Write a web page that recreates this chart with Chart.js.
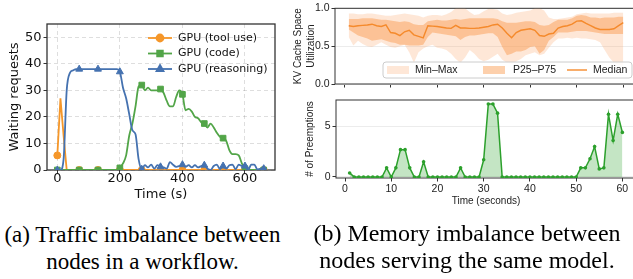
<!DOCTYPE html>
<html>
<head>
<meta charset="utf-8">
<script src="https://cdn.jsdelivr.net/npm/chart.js@4.4.1/dist/chart.umd.min.js"></script>
<style>
body { margin: 0; width: 633px; height: 279px; overflow: hidden; background: #fff; position: relative; }
.box { position: absolute; }
.cap { position: absolute; font: 23px/27px "Liberation Serif", serif; text-align: center; color: #000; white-space: nowrap; }
</style>
</head>
<body>
<div class="box" style="left:0;top:0;width:295px;height:205px"><canvas id="trafficChart"></canvas></div>
<div class="box" style="left:290px;top:0;width:350px;height:95px"><canvas id="kvChart"></canvas></div>
<div class="box" style="left:290px;top:90px;width:350px;height:120px"><canvas id="preemptChart"></canvas></div>
<div class="cap" style="left:0;top:221px;width:285px">(a) Traffic imbalance between<br>nodes in a workflow.</div>
<div class="cap" style="left:306px;top:220px;width:322px;font-size:24px">(b) Memory imbalance between<br>nodes serving the same model.</div>

<script>
// (a) waiting requests per GPU, sampled every 10 s
const timeS = [0, 10, 20, 30, 40, 50, 60, 70, 80, 90, 100, 110, 120, 130, 140, 150, 160, 170, 180, 190,
  200, 210, 220, 230, 240, 250, 260, 270, 280, 290, 300, 310, 320, 330, 340, 350, 360, 370, 380, 390,
  400, 410, 420, 430, 440, 450, 460, 470, 480, 490, 500, 510, 520, 530, 540, 550, 560, 570, 580, 590,
  600, 610, 620, 630, 640, 650, 660];
const toolUse = [5.5, 27, 13, 0, 0, 0, 0, 0, 0, 0, 0, 0, 0, 0, 0, 0, 0, 0, 0, 0,
  0, 0, 0, 0, 0, 0, 0, 0, 0, 0, 0, 0, 0, 0, 0, 0, 0, 0, 0, 0,
  0, 0, 0, 0, 0, 0, 0, 0, 0, 0, 0, 0, 0, 0, 0, 0, 0, 0, 0, 0,
  0, 0, 0, 0, 0, 0, 0];
const code = [0, 0, 0, 0, 0, 0, 0, 0, 0, 0, 0, 0, 0, 0, 0, 0, 0, 0, 0, 0,
  0.8, 2.5, 5.5, 13, 17.5, 24, 31.5, 32, 30, 31, 30, 30, 30, 30.5, 29, 26, 24, 24, 27.5, 30,
  28.5, 22.5, 23, 22, 20, 19.5, 18, 17.5, 16, 17.5, 16, 14, 12.5, 12, 11, 7.5, 6, 6, 5.5, 2.5,
  0.5, 0, 0, 0, 0, 0, 0];
const reasoning = [0, 0, 4, 30, 36.5, 37.5, 38, 38, 38, 38, 38, 38, 38, 38, 38, 38, 38, 38, 38, 38,
  37, 31, 27, 21, 15, 13.5, 4, 0.3, 1.8, 1, 2, 0.5, 1.8, 1.2, 1, 0.5, 3, 2, 1.2, 1.5,
  2, 1.2, 1.8, 1, 1.8, 1, 1.5, 1.8, 0.5, 0, 1.5, 2, 0.3, 1.5, 0.5, 1.8, 2, 0.3, 2, 1.5,
  1.5, 0, 2, 2, 0.2, 0.5, 0.5];
const markerIdx = [0, 7, 13, 20, 27, 33, 40, 47, 53, 60, 66];
const timeTicks = [0, 200, 400, 600];
const waitTicks = [0, 10, 20, 30, 40, 50];

// (b) per-second KV cache utilization across nodes and preemption counts
const seconds = [1, 2, 3, 4, 5, 6, 7, 8, 9, 10, 11, 12, 13, 14, 15, 16, 17, 18, 19, 20,
  21, 22, 23, 24, 25, 26, 27, 28, 29, 30, 31, 32, 33, 34, 35, 36, 37, 38, 39, 40,
  41, 42, 43, 44, 45, 46, 47, 48, 49, 50, 51, 52, 53, 54, 55, 56, 57, 58, 59, 60];
const kvMax = [0.93, 0.93, 0.92, 0.92, 0.93, 0.93, 0.92, 0.91, 0.90, 0.90, 0.91, 0.92, 0.93, 0.92, 0.91, 0.90, 0.88, 0.90, 0.91, 0.91,
  0.90, 0.92, 0.95, 1.0, 1.0, 1.0, 0.95, 0.91, 0.92, 0.96, 0.99, 0.99, 0.98, 0.93, 0.91, 0.92, 0.94, 0.95, 0.96, 0.97,
  1.0, 1.0, 0.97, 0.88, 0.86, 0.86, 0.87, 0.88, 0.89, 0.92, 0.93, 0.94, 0.93, 0.93, 0.93, 0.93, 0.93, 0.94, 0.94, 0.94];
const kvP75 = [0.86, 0.86, 0.86, 0.87, 0.87, 0.87, 0.86, 0.85, 0.85, 0.84, 0.83, 0.82, 0.83, 0.82, 0.79, 0.78, 0.78, 0.83, 0.84, 0.85,
  0.84, 0.84, 0.85, 0.86, 0.85, 0.86, 0.87, 0.87, 0.87, 0.87, 0.87, 0.87, 0.86, 0.83, 0.81, 0.81, 0.81, 0.82, 0.83, 0.83,
  0.82, 0.78, 0.77, 0.78, 0.82, 0.85, 0.85, 0.85, 0.87, 0.90, 0.91, 0.90, 0.88, 0.88, 0.87, 0.88, 0.88, 0.88, 0.89, 0.89];
const kvMedian = [0.77, 0.76, 0.77, 0.775, 0.78, 0.79, 0.77, 0.76, 0.78, 0.68, 0.67, 0.64, 0.69, 0.71, 0.65, 0.63, 0.61, 0.77, 0.765, 0.76,
  0.75, 0.74, 0.735, 0.775, 0.74, 0.74, 0.735, 0.735, 0.74, 0.75, 0.76, 0.78, 0.79, 0.74, 0.67, 0.61, 0.68, 0.71, 0.72, 0.73,
  0.71, 0.64, 0.63, 0.66, 0.67, 0.74, 0.76, 0.77, 0.79, 0.83, 0.835, 0.80, 0.77, 0.74, 0.72, 0.72, 0.72, 0.73, 0.77, 0.81];
const kvP25 = [0.72, 0.68, 0.64, 0.62, 0.60, 0.57, 0.58, 0.59, 0.57, 0.55, 0.54, 0.52, 0.52, 0.51, 0.51, 0.51, 0.52, 0.62, 0.68, 0.67,
  0.66, 0.65, 0.64, 0.63, 0.58, 0.62, 0.64, 0.64, 0.65, 0.66, 0.67, 0.67, 0.62, 0.49, 0.38, 0.40, 0.43, 0.43, 0.45, 0.49,
  0.50, 0.40, 0.45, 0.57, 0.62, 0.68, 0.68, 0.68, 0.69, 0.70, 0.70, 0.70, 0.69, 0.68, 0.67, 0.66, 0.66, 0.66, 0.66, 0.66];
const kvMin = [0.62, 0.51, 0.57, 0.53, 0.50, 0.49, 0.52, 0.55, 0.52, 0.49, 0.48, 0.50, 0.52, 0.42, 0.28, 0.42, 0.47, 0.50, 0.52, 0.48,
  0.47, 0.45, 0.40, 0.33, 0.28, 0.35, 0.45, 0.40, 0.33, 0.30, 0.32, 0.36, 0.40, 0.32, 0.28, 0.26, 0.30, 0.33, 0.38, 0.40,
  0.42, 0.38, 0.40, 0.48, 0.55, 0.60, 0.60, 0.61, 0.60, 0.61, 0.60, 0.60, 0.59, 0.58, 0.55, 0.45, 0.35, 0.28, 0.25, 0.24];
const preemptions = [0.4, 0, 0, 0, 0, 0, 0, 0, 0.9, 0, 0.9, 2.7, 2.7, 0.9, 0, 0, 1.5, 0, 0, 0,
  0, 0, 0, 0, 0.9, 0, 0, 0, 0, 1.7, 7.2, 7.2, 6.3, 0, 0, 0, 0, 0, 0, 0,
  0, 0, 0, 0, 0, 0, 0, 0, 0, 0, 0.9, 0.9, 1.8, 3.0, 0.8, 0.9, 6.2, 3.6, 6.2, 4.4];
const secondTicks = [0, 10, 20, 30, 40, 50, 60];
const kvTicks = [0, 0.5, 1.0];
const preemptTicks = [0, 5];

const pts = (xs, ys) => xs.map((x, i) => ({x: x, y: ys[i]}));
const fixTicks = vals => s => { s.ticks = vals.map(v => ({value: v})); };

const frame = {
  id: 'frame',
  beforeDatasetsDraw(chart, args, opts) {
    const {ctx, chartArea: a} = chart;
    ctx.save();
    ctx.strokeStyle = opts.color;
    ctx.lineWidth = opts.width;
    ctx.strokeRect(a.left, a.top, a.right - a.left, a.bottom - a.top);
    ctx.restore();
  }
};

// matplotlib style legend: short line with marker, then label
const lineLegend = {
  id: 'lineLegend',
  afterDraw(chart, args, o) {
    const ctx = chart.ctx;
    ctx.save();
    ctx.font = o.font;
    ctx.textBaseline = 'middle';
    chart.data.datasets.forEach((ds, i) => {
      const y = o.y + i * o.rowGap;
      ctx.strokeStyle = ds.borderColor;
      ctx.fillStyle = ds.borderColor;
      ctx.lineWidth = ds.borderWidth;
      ctx.beginPath();
      ctx.moveTo(o.x, y);
      ctx.lineTo(o.x + o.lineLen, y);
      ctx.stroke();
      Chart.helpers.drawPoint(ctx, {pointStyle: ds.pointStyle, radius: ds.markerSize, rotation: 0, borderWidth: 1}, o.x + o.lineLen / 2, y);
      ctx.fillStyle = '#111';
      ctx.fillText(ds.label, o.x + o.lineLen + 6, y);
    });
    ctx.restore();
  }
};

const bandLegend = {
  id: 'bandLegend',
  afterDraw(chart, args, o) {
    const ctx = chart.ctx;
    ctx.save();
    ctx.fillStyle = 'rgba(255,255,255,0.85)';
    ctx.strokeStyle = '#cccccc';
    ctx.lineWidth = 1;
    ctx.beginPath();
    ctx.roundRect(o.x, o.y, o.w, o.h, 3);
    ctx.fill();
    ctx.stroke();
    ctx.font = o.font;
    ctx.textBaseline = 'middle';
    const cy = o.y + o.h / 2;
    o.items.forEach(it => {
      const ds = chart.data.datasets[it.ds];
      if (it.kind === 'box') {
        ctx.fillStyle = ds.backgroundColor;
        ctx.fillRect(it.x, cy - 4, 22, 8);
      } else {
        ctx.strokeStyle = ds.borderColor;
        ctx.lineWidth = ds.borderWidth;
        ctx.beginPath();
        ctx.moveTo(it.x, cy);
        ctx.lineTo(it.x + 20, cy);
        ctx.stroke();
      }
      ctx.fillStyle = '#222';
      ctx.fillText(ds.label, it.tx, cy);
    });
    ctx.restore();
  }
};

const markerRadius = r => c => markerIdx.includes(c.dataIndex) ? r : 0;

new Chart(document.getElementById('trafficChart'), {
  type: 'line',
  data: {
    datasets: [{
      label: 'GPU (tool use)',
      data: pts(timeS, toolUse),
      borderColor: '#f5972a', backgroundColor: '#f5972a', borderWidth: 1.8,
      pointStyle: 'circle', markerSize: 3.5, pointRadius: markerRadius(3.5), pointBorderWidth: 1,
      tension: 0, order: 3
    }, {
      label: 'GPU (code)',
      data: pts(timeS, code),
      borderColor: '#52a548', backgroundColor: '#52a548', borderWidth: 1.8,
      pointStyle: 'rect', markerSize: 4, pointRadius: markerRadius(4), pointBorderWidth: 1,
      cubicInterpolationMode: 'monotone', order: 2
    }, {
      label: 'GPU (reasoning)',
      data: pts(timeS, reasoning),
      borderColor: '#4572b0', backgroundColor: '#4572b0', borderWidth: 1.8,
      pointStyle: 'triangle', markerSize: 4, pointRadius: markerRadius(4), pointBorderWidth: 1,
      cubicInterpolationMode: 'monotone', order: 1
    }]
  },
  options: {
    responsive: true,
    maintainAspectRatio: false,
    animation: false,
    layout: {padding: {top: 24, right: 20, left: 0, bottom: 0}},
    font: {family: 'DejaVu Sans'},
    scales: {
      x: {
        type: 'linear', min: -33, max: 696,
        afterBuildTicks: fixTicks(timeTicks),
        afterFit: s => { s.height = 35; },
        grid: {color: 'rgba(0,0,0,0.13)', tickColor: '#333', tickLength: 3.5, tickBorderDash: []},
        border: {display: false, dash: [4, 3]},
        ticks: {color: '#111', padding: -3, font: {family: 'DejaVu Sans', size: 13}, maxRotation: 0},
        title: {display: true, text: 'Time (s)', color: '#111', font: {family: 'DejaVu Sans', size: 13}, padding: {top: 0, bottom: 3}}
      },
      y: {
        min: 0, max: 55,
        afterBuildTicks: fixTicks(waitTicks),
        afterFit: s => { s.width = 47; },
        grid: {color: 'rgba(0,0,0,0.13)', tickColor: '#333', tickLength: 3.5, tickBorderDash: []},
        border: {display: false, dash: [4, 3]},
        ticks: {color: '#111', padding: 2, font: {family: 'DejaVu Sans', size: 13}},
        title: {display: true, text: 'Waiting requests', color: '#111', font: {family: 'DejaVu Sans', size: 13}, padding: {top: 7, bottom: 0}}
      }
    },
    plugins: {
      legend: {display: false},
      tooltip: {enabled: false},
      frame: {color: '#333', width: 1.3},
      lineLegend: {x: 148, y: 38, rowGap: 15.5, lineLen: 24, font: '11px "DejaVu Sans"'}
    }
  },
  plugins: [frame, lineLegend]
});

new Chart(document.getElementById('kvChart'), {
  type: 'line',
  data: {
    datasets: [{
      label: 'Median', data: pts(seconds, kvMedian),
      borderColor: '#f58a2c', borderWidth: 1.4, pointRadius: 0, fill: false
    }, {
      label: 'P25\u2013P75', data: pts(seconds, kvP75),
      borderColor: 'transparent', borderWidth: 0, pointRadius: 0,
      backgroundColor: 'rgba(250,150,70,0.45)', fill: '+1'
    }, {
      label: 'P25', data: pts(seconds, kvP25),
      borderColor: 'transparent', borderWidth: 0, pointRadius: 0, fill: false
    }, {
      label: 'Min\u2013Max', data: pts(seconds, kvMax),
      borderColor: 'transparent', borderWidth: 0, pointRadius: 0,
      backgroundColor: 'rgba(252,170,110,0.28)', fill: '+1'
    }, {
      label: 'Min', data: pts(seconds, kvMin),
      borderColor: 'transparent', borderWidth: 0, pointRadius: 0, fill: false
    }]
  },
  options: {
    responsive: true,
    maintainAspectRatio: false,
    animation: false,
    layout: {padding: {top: 5, right: 3, left: 0, bottom: 0}},
    scales: {
      x: {
        type: 'linear', min: -1.95, max: 62.95,
        afterBuildTicks: fixTicks(secondTicks),
        afterFit: s => { s.height = 11; },
        grid: {drawOnChartArea: false, tickColor: '#333', tickLength: 3.5},
        border: {display: false},
        ticks: {display: false}
      },
      y: {
        min: 0, max: 1.0,
        afterBuildTicks: fixTicks(kvTicks),
        afterFit: s => { s.width = 45; },
        grid: {color: '#ececec', tickColor: '#333', tickLength: 3.5},
        border: {display: false},
        ticks: {color: '#222', padding: 2, font: {family: 'Liberation Sans', size: 10.5}, callback: v => v.toFixed(1)},
        title: {display: true, text: ['KV Cache Space', 'Utilization'], color: '#222', font: {family: 'Liberation Sans', size: 10, lineHeight: 1.3}, padding: {top: 1.5, bottom: 0}}
      }
    },
    plugins: {
      legend: {display: false},
      tooltip: {enabled: false},
      frame: {color: '#333', width: 1},
      bandLegend: {
        x: 93, y: 62, w: 249, h: 16, font: '10.5px "Liberation Sans"',
        items: [{ds: 3, kind: 'box', x: 97, tx: 125}, {ds: 1, kind: 'box', x: 193, tx: 223}, {ds: 0, kind: 'line', x: 277, tx: 303}]
      }
    }
  },
  plugins: [frame, bandLegend]
});

new Chart(document.getElementById('preemptChart'), {
  type: 'line',
  data: {
    datasets: [{
      label: '# of Preemptions', data: pts(seconds, preemptions),
      borderColor: '#2ca02c', borderWidth: 1.5,
      pointRadius: 1.8, pointBackgroundColor: '#2ca02c', pointBorderWidth: 0,
      backgroundColor: 'rgba(44,160,44,0.28)', fill: 'origin'
    }]
  },
  options: {
    responsive: true,
    maintainAspectRatio: false,
    animation: false,
    layout: {padding: {top: 10, right: 3, left: 0, bottom: 0}},
    scales: {
      x: {
        type: 'linear', min: -1.95, max: 62.95,
        afterBuildTicks: fixTicks(secondTicks),
        afterFit: s => { s.height = 32; },
        grid: {drawOnChartArea: false, tickColor: '#333', tickLength: 3.5},
        border: {display: false},
        ticks: {color: '#222', padding: 1, font: {family: 'Liberation Sans', size: 10.5}, maxRotation: 0},
        title: {display: true, text: 'Time (seconds)', color: '#222', font: {family: 'Liberation Sans', size: 10}, padding: {top: 0, bottom: 3}}
      },
      y: {
        min: -0.1, max: 7.6,
        afterBuildTicks: fixTicks(preemptTicks),
        afterFit: s => { s.width = 46; },
        grid: {color: '#ececec', tickColor: '#333', tickLength: 3.5},
        border: {display: false},
        ticks: {color: '#222', padding: 2, font: {family: 'Liberation Sans', size: 10.5}},
        title: {display: true, text: '# of Preemptions', color: '#222', font: {family: 'Liberation Sans', size: 10}, padding: {top: 14, bottom: 0}}
      }
    },
    plugins: {
      legend: {display: false},
      tooltip: {enabled: false},
      frame: {color: '#333', width: 1}
    }
  },
  plugins: [frame]
});
</script>
</body>
</html>
